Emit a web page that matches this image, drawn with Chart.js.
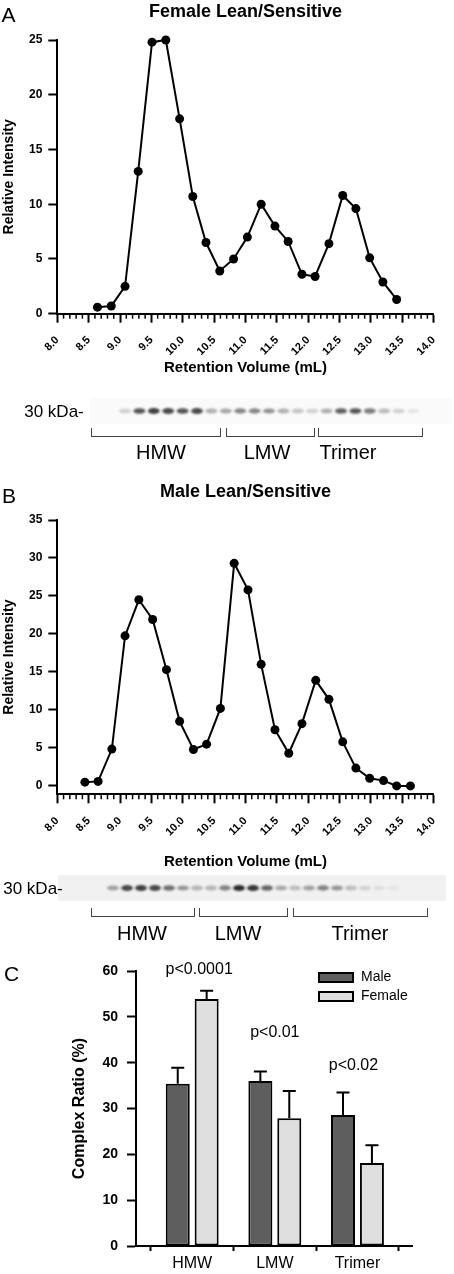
<!DOCTYPE html>
<html>
<head>
<meta charset="utf-8">
<script src="https://cdn.jsdelivr.net/npm/chart.js@4.4.1/dist/chart.umd.min.js"></script>
<style>
body { margin: 0; background: #fff; }
#page { position: relative; width: 454px; height: 1274px; overflow: hidden; font-family: 'Liberation Sans', Arial, Helvetica, sans-serif; color: #000; }
#page canvas { position: absolute; left: 0; }
.lbl { position: absolute; transform: translate(-50%, -50%); line-height: 1; white-space: nowrap; }
.bracket { position: absolute; height: 9px; border: 1.5px solid #444; border-top: none; box-sizing: border-box; }
</style>
</head>
<body>
<div id="page">
  <canvas id="chartA" width="454" height="380" style="top:0px"></canvas>
  <canvas id="gelA" width="454" height="26" style="top:398px"></canvas>
  <canvas id="chartB" width="454" height="392" style="top:480px"></canvas>
  <canvas id="gelB" width="454" height="26" style="top:875px"></canvas>
  <canvas id="chartC" width="454" height="334" style="top:940px"></canvas>
</div>
<script>
// Size exclusion profiles (A: female, B: male) and complex ratios (C)

// Panel A - Female Lean/Sensitive
var volumeFemale = [8.64, 8.86, 9.08, 9.29, 9.51, 9.73, 9.95, 10.16, 10.37, 10.59, 10.81, 11.03,
                    11.25, 11.47, 11.68, 11.90, 12.11, 12.33, 12.55, 12.76, 12.98, 13.19, 13.41];
var intensityFemale = [0.6, 0.7, 2.5, 13.0, 24.8, 25.0, 17.8, 10.7, 6.5, 3.9, 5.0, 7.0,
                       10.0, 8.0, 6.6, 3.6, 3.4, 6.4, 10.8, 9.6, 5.1, 2.9, 1.3];

// Panel B - Male Lean/Sensitive
var volumeMale = [8.44, 8.65, 8.87, 9.08, 9.30, 9.52, 9.74, 9.95, 10.17, 10.38, 10.60, 10.82, 11.04,
                  11.25, 11.47, 11.69, 11.90, 12.12, 12.33, 12.55, 12.76, 12.98, 13.20, 13.41, 13.63];
var intensityMale = [0.5, 0.6, 4.85, 19.75, 24.5, 21.9, 15.3, 8.5, 4.8, 5.5, 10.2, 29.3, 25.8,
                     16.0, 7.4, 4.3, 8.2, 13.9, 11.4, 5.8, 2.35, 1.0, 0.7, 0.0, 0.0];

// Gel band intensities (0-1), one per lane
var gelBandsA = [0.2, 0.8, 0.9, 0.85, 0.8, 0.85, 0.35, 0.4, 0.55, 0.55, 0.5, 0.35, 0.25, 0.2, 0.35, 0.75, 0.8, 0.6, 0.3, 0.2, 0.1];
var gelBandsB = [0.4, 0.85, 0.9, 0.85, 0.65, 0.45, 0.3, 0.3, 0.55, 1.0, 0.95, 0.7, 0.35, 0.25, 0.4, 0.55, 0.45, 0.25, 0.15, 0.1, 0.05];

// Panel C - complex ratio (%), mean and error
var categories = ["HMW", "LMW", "Trimer"];
var maleRatio = [35.4, 36.0, 28.6];
var maleError = [3.5, 2.1, 4.9];
var femaleRatio = [53.9, 27.9, 18.1];
var femaleError = [1.8, 5.9, 3.9];
var pValues = ["p<0.0001", "p<0.01", "p<0.02"];

var fontFamily = "'Liberation Sans', Arial, Helvetica, sans-serif";
Chart.defaults.font.family = fontFamily;
Chart.defaults.color = "#000";

//Small tick marks every 0.1 mL between the labelled ones
var minorTicks = {
    id: "minorTicks",
    afterDraw: function (chart) {
        var xs = chart.scales.x;
        var ctx = chart.ctx;
        var steps = Math.round((xs.max - xs.min) * 10);
        ctx.save();
        ctx.strokeStyle = "#000";
        ctx.lineWidth = 1.5;
        for (var i = 1; i < steps; i++) {
            if (i % 5 === 0) continue;
            var px = xs.getPixelForValue(xs.min + i / 10);
            ctx.beginPath();
            ctx.moveTo(px, xs.top);
            ctx.lineTo(px, xs.top + 5);
            ctx.stroke();
        }
        ctx.restore();
    }
};

//Function used to draw one elution profile
function drawProfile(id, titleText, volumes, intensities, yMin, yMax, xHeight, xTitlePad, tickPad) {
    return new Chart(id, {
        type: "line",
        data: {
            datasets: [{
                data: volumes.map(function (v, i) { return { x: v, y: intensities[i] }; }),
                borderColor: "#000",
                borderWidth: 2,
                pointRadius: 4.5,
                pointBackgroundColor: "#000",
                pointBorderWidth: 0,
                tension: 0,
                clip: false
            }]
        },
        options: {
            responsive: false,
            animation: false,
            layout: { padding: { left: 0, right: 7.3, top: 0, bottom: 0 } },
            plugins: {
                legend: { display: false },
                tooltip: { enabled: false },
                title: {
                    display: true,
                    text: titleText,
                    fullSize: false,
                    font: { size: 18, weight: "bold" },
                    color: "#000",
                    padding: { top: 1.7, bottom: 16.7 }
                }
            },
            scales: {
                x: {
                    type: "linear",
                    min: 8,
                    max: 14,
                    ticks: {
                        stepSize: 0.5,
                        autoSkip: false,
                        minRotation: 45,
                        maxRotation: 45,
                        padding: tickPad,
                        font: { size: 11, weight: "bold" },
                        callback: function (v) { return v.toFixed(1); }
                    },
                    grid: { drawOnChartArea: false, tickLength: 9, tickWidth: 2, tickColor: "#000" },
                    border: { color: "#000", width: 2 },
                    title: {
                        display: true,
                        text: "Retention Volume (mL)",
                        font: { size: 15, weight: "bold" },
                        padding: { top: 0, bottom: xTitlePad }
                    },
                    afterFit: function (s) { s.height = xHeight; }
                },
                y: {
                    min: yMin,
                    max: yMax,
                    ticks: { stepSize: 5, includeBounds: false, padding: 6, font: { size: 12, weight: "bold" } },
                    afterBuildTicks: function (s) {
                        s.ticks = s.ticks.filter(function (t) { return t.value >= 0; });
                    },
                    grid: { drawOnChartArea: false, tickLength: 9, tickWidth: 2, tickColor: "#000" },
                    border: { color: "#000", width: 2 },
                    title: {
                        display: true,
                        text: "Relative Intensity",
                        font: { size: 14, weight: "bold" },
                        padding: { top: 0.6, bottom: 0 }
                    },
                    afterFit: function (s) { s.width = 57.3; }
                }
            }
        },
        plugins: [minorTicks]
    });
}

//Draws the western blot strip under a profile
function drawGel(id, bands, firstX, lastX, bgLeft, bgRight, bgColor) {
    var c = document.getElementById(id);
    var ctx = c.getContext("2d");
    var mid = c.height / 2;
    ctx.fillStyle = bgColor;
    ctx.fillRect(bgLeft, 0, bgRight - bgLeft, c.height);
    var step = (lastX - firstX) / (bands.length - 1);
    ctx.filter = "blur(0.8px)";
    bands.forEach(function (b, i) {
        var x = firstX + i * step;
        ctx.fillStyle = "rgba(20,20,20," + (b * 0.9).toFixed(2) + ")";
        ctx.beginPath();
        ctx.ellipse(x, mid, 6, 2.2 + b * 0.8, 0, 0, Math.PI * 2);
        ctx.fill();
    });
    ctx.filter = "none";
}

//Adds a text label or a bracket on the page
function addLabel(text, cx, cy, size, weight) {
    var d = document.createElement("div");
    d.className = "lbl";
    d.textContent = text;
    d.style.left = cx + "px";
    d.style.top = cy + "px";
    d.style.fontSize = size + "px";
    if (weight) d.style.fontWeight = weight;
    document.getElementById("page").appendChild(d);
}
function addBracket(left, right, top) {
    var d = document.createElement("div");
    d.className = "bracket";
    d.style.left = left + "px";
    d.style.width = (right - left) + "px";
    d.style.top = top + "px";
    document.getElementById("page").appendChild(d);
}

//Error bars above each bar (upper half only)
var errorBars = {
    id: "errorBars",
    afterDatasetsDraw: function (chart) {
        var ys = chart.scales.y;
        var ctx = chart.ctx;
        ctx.save();
        ctx.strokeStyle = "#000";
        ctx.lineWidth = 2;
        chart.data.datasets.forEach(function (ds, d) {
            chart.getDatasetMeta(d).data.forEach(function (bar, i) {
                var top = ys.getPixelForValue(ds.data[i].y + ds.errors[i]);
                ctx.beginPath();
                ctx.moveTo(bar.x, bar.y);
                ctx.lineTo(bar.x, top);
                ctx.moveTo(bar.x - 6.5, top);
                ctx.lineTo(bar.x + 6.5, top);
                ctx.stroke();
            });
        });
        ctx.restore();
    }
};

//p-value text over each group
var pLabels = {
    id: "pLabels",
    afterDraw: function (chart, args, opts) {
        var xs = chart.scales.x, ys = chart.scales.y, ctx = chart.ctx;
        ctx.save();
        ctx.fillStyle = "#000";
        ctx.font = "16px " + fontFamily;
        ctx.textAlign = "center";
        ctx.textBaseline = "middle";
        opts.text.forEach(function (t, i) {
            ctx.fillText(t, xs.getPixelForValue(i) + opts.shift[i], ys.getPixelForValue(opts.levels[i]));
        });
        ctx.restore();
    }
};

//Legend drawn inside the plot, upper right
var boxLegend = {
    id: "boxLegend",
    afterDraw: function (chart) {
        var ca = chart.chartArea, ctx = chart.ctx;
        ctx.save();
        ctx.font = "14px " + fontFamily;
        ctx.textBaseline = "middle";
        chart.data.datasets.forEach(function (ds, d) {
            var x = ca.right - 93, y = ca.top + 2 + d * 19;
            ctx.fillStyle = ds.backgroundColor;
            ctx.fillRect(x, y, 34, 9);
            ctx.strokeStyle = "#000";
            ctx.lineWidth = 2;
            ctx.strokeRect(x, y, 34, 9);
            ctx.fillStyle = "#000";
            ctx.fillText(ds.label, x + 42, y + 4.5);
        });
        ctx.restore();
    }
};

function drawRatioChart() {
    return new Chart("chartC", {
        type: "bar",
        data: {
            datasets: [{
                label: "Male",
                data: maleRatio.map(function (v, i) { return { x: i, y: v }; }),
                errors: maleError,
                backgroundColor: "#5e5e5e",
                borderColor: "#000",
                borderWidth: 2,
                borderSkipped: false
            }, {
                label: "Female",
                data: femaleRatio.map(function (v, i) { return { x: i, y: v }; }),
                errors: femaleError,
                backgroundColor: "#dedede",
                borderColor: "#000",
                borderWidth: 2,
                borderSkipped: false
            }]
        },
        options: {
            responsive: false,
            animation: false,
            categoryPercentage: 0.70,
            barPercentage: 0.83,
            layout: { padding: { left: 0, right: 42, top: 31, bottom: 0 } },
            plugins: {
                legend: { display: false },
                tooltip: { enabled: false },
                pLabels: { text: pValues, levels: [60.3, 46.5, 39.3], shift: [7, 0, -4] }
            },
            scales: {
                x: {
                    type: "linear",
                    min: -0.68,
                    max: 2.66,
                    offset: false,
                    ticks: {
                        stepSize: 1,
                        includeBounds: false,
                        autoSkip: false,
                        maxRotation: 0,
                        padding: 3,
                        font: { size: 16 },
                        callback: function (v) { return categories[v]; }
                    },
                    afterBuildTicks: function (s) {
                        s.ticks = s.ticks.filter(function (t) {
                            return Number.isInteger(t.value) && t.value >= 0 && t.value < categories.length;
                        });
                    },
                    grid: { drawOnChartArea: false, tickLength: 5, tickWidth: 2, tickColor: "#000" },
                    border: { color: "#000", width: 2 },
                    afterFit: function (s) { s.height = 28; }
                },
                y: {
                    min: 0,
                    max: 60,
                    ticks: { stepSize: 10, padding: 9, font: { size: 14, weight: "bold" } },
                    grid: { drawOnChartArea: false, tickLength: 9, tickWidth: 2, tickColor: "#000" },
                    border: { color: "#000", width: 2 },
                    title: {
                        display: true,
                        text: "Complex Ratio (%)",
                        font: { size: 16, weight: "bold" },
                        padding: { top: 70.4, bottom: 0 }
                    },
                    afterFit: function (s) { s.width = 136; }
                }
            }
        },
        plugins: [errorBars, pLabels, boxLegend]
    });
}

//Start of Main Code
drawProfile("chartA", "Female Lean/Sensitive", volumeFemale, intensityFemale, 0, 25, 66.3, 3, 11);
drawProfile("chartB", "Male Lean/Sensitive", volumeMale, intensityMale, -1.1, 35, 77.7, 1.5, 11);
drawRatioChart();

drawGel("gelA", gelBandsA, 125, 413, 90, 452, "#fafafa");
drawGel("gelB", gelBandsB, 113, 393, 58, 446, "#f1f1f1");

//Panel letters
addLabel("A", 8.5, 13.5, 21);
addLabel("B", 9, 494.5, 21);
addLabel("C", 11.5, 972.5, 21);

//Gel annotations, panel A
addLabel("30 kDa-", 54, 411, 17);
addBracket(91, 221, 428);
addBracket(226, 315, 428);
addBracket(318, 423, 428);
addLabel("HMW", 161, 452, 20);
addLabel("LMW", 267, 452, 20);
addLabel("Trimer", 348, 452, 20);

//Gel annotations, panel B
addLabel("30 kDa-", 33, 888, 17);
addBracket(91, 195, 908);
addBracket(199, 288, 908);
addBracket(293, 428, 908);
addLabel("HMW", 142, 933, 20);
addLabel("LMW", 238, 933, 20);
addLabel("Trimer", 360, 933, 20);
</script>
</body>
</html>
